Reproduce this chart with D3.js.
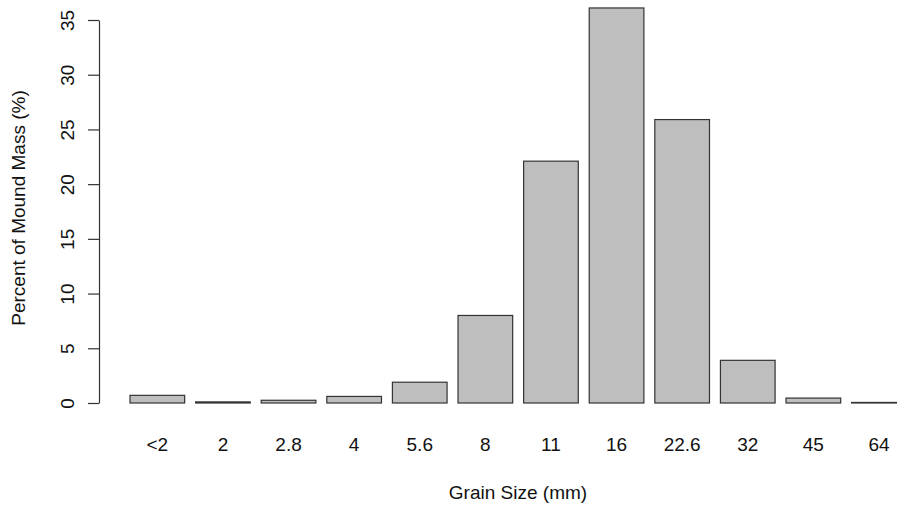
<!DOCTYPE html>
<html>
<head>
<meta charset="utf-8">
<script src="https://d3js.org/d3.v7.min.js"></script>
<style>
  body { margin: 0; background: #fff; }
  svg { display: block; font-family: "Liberation Sans", Arial, sans-serif; }
</style>
</head>
<body>
<svg id="chart" width="897" height="512"></svg>
<script>
// grain size classes and percent of mound mass
var sizes = ["<2", "2", "2.8", "4", "5.6", "8", "11", "16", "22.6", "32", "45", "64"];
var percents = [0.7, 0.1, 0.25, 0.6, 1.9, 8.0, 22.1, 36.1, 25.9, 3.9, 0.45, 0.05];
var yTicks = [0, 5, 10, 15, 20, 25, 30, 35];

var fontSize = 19;
var svg = d3.select("#chart");

// R barplot style: bar width 1, space 0.2
var xScale = d3.scaleLinear().domain([0.2, 14.4]).range([130, 906.3]);
var yScale = d3.scaleLinear().domain([0, 35]).range([403, 20]);

function barLeft(i) { return 0.2 + i * 1.2; }

svg.selectAll(".bar")
   .data(percents)
   .enter().append("rect")
   .attr("class", "bar")
   .attr("x", function(d, i) { return xScale(barLeft(i)); })
   .attr("width", function(d, i) { return xScale(barLeft(i) + 1) - xScale(barLeft(i)); })
   .attr("y", function(d) { return yScale(d); })
   .attr("height", function(d) { return yScale(0) - yScale(d); })
   .attr("fill", "#bebebe")
   .attr("stroke", "#333")
   .attr("stroke-width", 1.2);

// x labels (no axis line, like R barplot names)
svg.selectAll(".xlab")
   .data(sizes)
   .enter().append("text")
   .attr("class", "xlab")
   .attr("x", function(d, i) { return xScale(barLeft(i) + 0.5); })
   .attr("y", 451)
   .attr("text-anchor", "middle")
   .style("font-size", fontSize + "px")
   .attr("fill", "#111")
   .text(function(d) { return d; });

// y axis
var yAxis = svg.append("g")
   .attr("transform", "translate(99,0)")
   .call(d3.axisLeft(yScale).tickValues(yTicks).tickSize(11).tickSizeOuter(0));
yAxis.attr("font-size", null).attr("font-family", null);
yAxis.select(".domain").attr("stroke", "#333").attr("stroke-width", 1.2);
yAxis.selectAll(".tick line").attr("stroke", "#333").attr("stroke-width", 1.2);
yAxis.selectAll(".tick text")
   .style("font-size", fontSize + "px")
   .attr("fill", "#111")
   .attr("x", null).attr("dy", null)
   .attr("text-anchor", "middle")
   .attr("transform", "translate(-25,0) rotate(-90)");

// axis titles
svg.append("text")
   .attr("x", 518).attr("y", 499)
   .attr("text-anchor", "middle")
   .style("font-size", fontSize + "px")
   .attr("fill", "#111")
   .text("Grain Size (mm)");

svg.append("text")
   .attr("transform", "translate(25,208) rotate(-90)")
   .attr("text-anchor", "middle")
   .style("font-size", fontSize + "px")
   .attr("fill", "#111")
   .text("Percent of Mound Mass (%)");
</script>
</body>
</html>
